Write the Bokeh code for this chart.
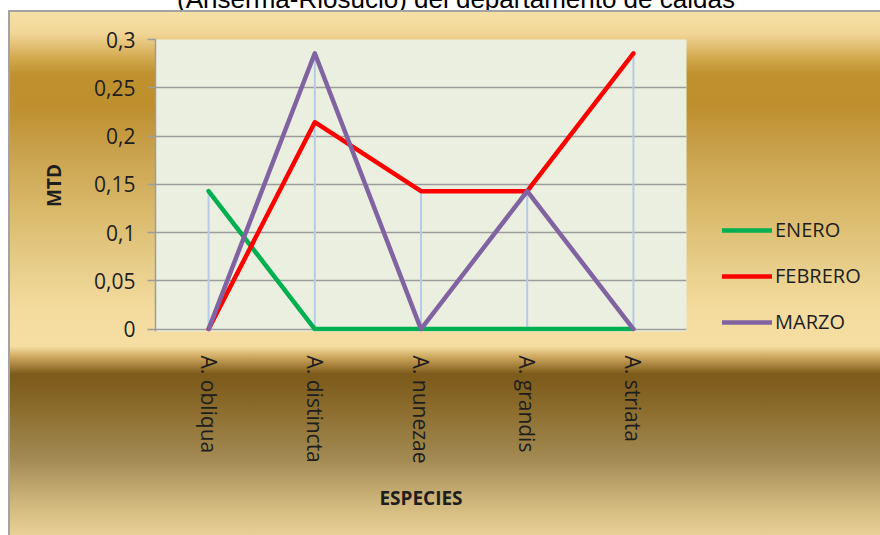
from bokeh.plotting import figure
from bokeh.layouts import column
from bokeh.models import (FactorRange, Range1d, FixedTicker, CustomJSTickFormatter,
                          Legend, LegendItem, Div, InlineStyleSheet)
from bokeh.embed import file_html
from bokeh.resources import INLINE

# ---------------- data ----------------
title_text = "(Anserma-Riosucio) del departamento de caldas"
species = ["A. obliqua", "A. distincta", "A. nunezae", "A. grandis", "A. striata"]
enero = [0.1429, 0.0, 0.0, 0.0, 0.0]
febrero = [0.0, 0.2143, 0.1429, 0.1429, 0.2857]
marzo = [0.0, 0.2857, 0.0, 0.1429, 0.0]
series_names = ["ENERO", "FEBRERO", "MARZO"]
y_ticks = [0, 0.05, 0.1, 0.15, 0.2, 0.25, 0.3]
y_tick_labels = ["0", "0,05", "0,1", "0,15", "0,2", "0,25", "0,3"]
x_axis_title = "ESPECIES"
y_axis_title = "MTD"

# ---------------- styles ----------------
series_colors = ["#00b050", "#ff0000", "#8064a2"]
drop_color = "#b7cbe8"
grid_color = "#9c9c9c"
plot_bg = "#ebefdf"
text_color = "#1e1e1e"
font = "Open Sans"

css = """
:host {
  background:
    linear-gradient(to right, #ffffff 0px, #ffffff 8px, transparent 8px),
    linear-gradient(to bottom, #a3a3a3 0px, #a3a3a3 2px, transparent 2px),
    linear-gradient(to right, transparent 8px, #a3a3a3 8px, #a3a3a3 9.5px, transparent 9.5px),
    linear-gradient(to bottom, #f7e1a7 2px, #f1d595 24px, #d3a94f 48px, #bf912f 64px,
      #bd8f2d 97px, #c9a14c 140px, #d9b96a 200px, #e9cf8c 260px, #f4dc9f 303px,
      #f6dea3 336px, #c9a359 348px, #7d5b1b 364px, #7e5d1d 372px, #8c6d2e 400px,
      #a38b54 450px, #d5bd82 500px, #e8d096 525px);
}
"""

# ---------------- title strip (text cut at the top, as in the source image) ----------------
title_div = Div(
    text=('<div style="position:relative; top:-16px; width:880px; padding-left:32px; '
          'box-sizing:border-box; text-align:center; white-space:nowrap; '
          "font-family:'Liberation Sans'; font-size:26px; line-height:30px; color:#000;\">"
          + title_text + '</div>'),
    width=880, height=10, margin=0,
    styles={"overflow": "hidden", "background": "#ffffff"})

# ---------------- main chart ----------------
p = figure(x_range=FactorRange(factors=species, range_padding=0),
           y_range=Range1d(-0.0025, 0.3),
           frame_width=531, frame_height=292,
           min_border_left=155, min_border_right=194,
           min_border_top=29, min_border_bottom=204,
           output_backend="svg", toolbar_location=None)
p.stylesheets = [InlineStyleSheet(css=css)]
p.border_fill_color = None
p.background_fill_color = plot_bg
p.outline_line_color = None

# grid
p.xgrid.grid_line_color = None
p.ygrid.grid_line_color = grid_color
p.ygrid.grid_line_width = 1.5
p.ygrid.ticker = FixedTicker(ticks=y_ticks)

# y axis
p.yaxis.ticker = FixedTicker(ticks=y_ticks)
p.yaxis.formatter = CustomJSTickFormatter(args=dict(vals=y_ticks, labs=y_tick_labels), code="""
    for (let i = 0; i < vals.length; i++) { if (Math.abs(vals[i] - tick) < 1e-9) return labs[i]; }
    return '';
""")
p.yaxis.axis_line_color = grid_color
p.yaxis.axis_line_width = 1.5
p.yaxis.major_tick_line_color = grid_color
p.yaxis.major_tick_line_width = 1.5
p.yaxis.major_tick_out = 8
p.yaxis.major_tick_in = 0
p.yaxis.minor_tick_line_color = None
p.yaxis.major_label_standoff = 12
p.yaxis.major_label_text_font = font
p.yaxis.major_label_text_font_size = "21px"
p.yaxis.major_label_text_color = text_color
p.yaxis.axis_label = y_axis_title
p.yaxis.axis_label_text_font = font
p.yaxis.axis_label_text_font_style = "bold"
p.yaxis.axis_label_text_font_size = "19px"
p.yaxis.axis_label_text_color = text_color
p.yaxis.axis_label_standoff = 24

# x axis (zero line drawn by the grid)
p.xaxis.axis_line_color = None
p.xaxis.major_tick_line_color = None
p.xaxis.major_tick_out = 0
p.xaxis.major_tick_in = 0
p.xaxis.minor_tick_line_color = None
p.xaxis.major_label_orientation = "vertical"
p.xaxis.major_label_standoff = 24
p.xaxis.major_label_text_font = font
p.xaxis.major_label_text_font_size = "21px"
p.xaxis.major_label_text_color = text_color
p.xaxis.axis_label = x_axis_title
p.xaxis.axis_label_text_font = font
p.xaxis.axis_label_text_font_style = "bold"
p.xaxis.axis_label_text_font_size = "19px"
p.xaxis.axis_label_text_color = text_color
p.xaxis.axis_label_standoff = 19

# drop lines (from 0 to the highest series value at each category)
drop_top = [max(a, b, c) for a, b, c in zip(enero, febrero, marzo)]
p.segment(x0=species, y0=[0] * len(species), x1=species, y1=drop_top,
          line_color=drop_color, line_width=2)

renderers = []
for vals, col in zip([enero, febrero, marzo], series_colors):
    r = p.line(x=species, y=vals, line_color=col, line_width=4.5,
               line_join="round", line_cap="round")
    renderers.append(r)

legend = Legend(items=[LegendItem(label=n, renderers=[r]) for n, r in zip(series_names, renderers)],
                location=(36, -4), orientation="vertical",
                glyph_width=50, glyph_height=20, label_height=20,
                label_standoff=3, spacing=19, padding=0, margin=0,
                background_fill_alpha=0, border_line_color=None,
                label_text_font=font, label_text_font_size="20px",
                label_text_color=text_color)
p.add_layout(legend, "right")

layout = column(title_div, p, spacing=0)
open("out.html", "w").write(file_html(layout, INLINE))
